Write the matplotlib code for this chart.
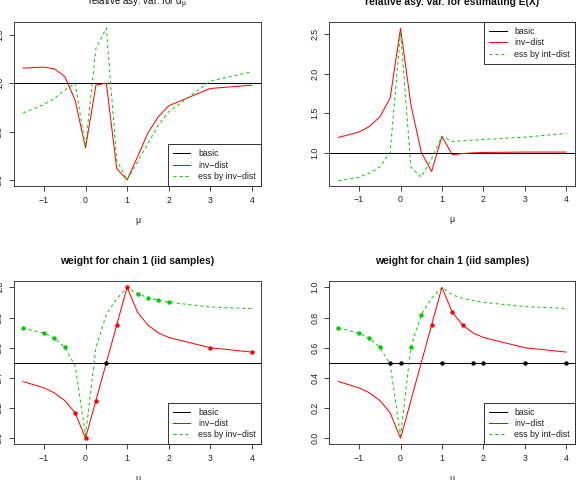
import matplotlib
matplotlib.use("Agg")
import matplotlib.pyplot as plt
from matplotlib.lines import Line2D

plt.rcParams['font.family'] = ['Liberation Sans', 'DejaVu Sans']

# ---------------- data ----------------
mu = [-1.5, -1, -0.75, -0.5, -0.25, 0, 0.25, 0.5, 0.75, 1, 1.25, 1.5, 1.75, 2, 3, 4]

# relative asymptotic variance for d_mu
var_d_inv = [1.155, 1.166, 1.148, 1.069, 0.824, 0.331, 0.979, 1.0, 0.117, 0.0,
             0.238, 0.486, 0.652, 0.766, 0.945, 0.979]
var_d_ess = [0.693, 0.779, 0.841, 0.928, 1.0, 0.341, 1.359, 1.569, 0.203, 0.0,
             0.186, 0.376, 0.566, 0.703, 1.021, 1.117]

# relative asymptotic variance for estimating E(X)
var_e_inv = [1.197, 1.265, 1.336, 1.454, 1.693, 2.567, 1.609, 1.013, 0.769, 1.21,
             0.979, 0.995, 1.003, 1.008, 1.013, 1.013]
var_e_ess = [0.655, 0.697, 0.748, 0.824, 1.013, 2.525, 0.824, 0.697, 0.929, 1.21,
             1.147, 1.155, 1.163, 1.172, 1.2, 1.248]

# weight for chain 1
w_basic = 0.5
w_inv = [0.376, 0.334, 0.301, 0.25, 0.169, 0.0, 0.25, 0.5, 0.75, 1.0,
         0.835, 0.75, 0.698, 0.668, 0.6, 0.571]
w_ess_d = [0.732, 0.695, 0.662, 0.602, 0.48, 0.02, 0.60, 0.82, 0.925, 1.0,
           0.958, 0.932, 0.914, 0.901, 0.870, 0.859]
w_ess_e = [0.732, 0.695, 0.662, 0.602, 0.49, 0.015, 0.602, 0.82, 0.927, 1.0,
           0.95, 0.927, 0.912, 0.90, 0.873, 0.859]

# best method at each mu (point markers)
best_d = ['ess', 'ess', 'ess', 'ess', 'inv', 'inv', 'inv', 'basic', 'inv', 'inv',
          'ess', 'ess', 'ess', 'ess', 'inv', 'inv']
best_e = ['ess', 'ess', 'ess', 'ess', 'basic', 'basic', 'ess', 'ess', 'inv', 'basic',
          'inv', 'inv', 'basic', 'basic', 'basic', 'basic']

titles = [r'relative asy. var. for d$_\mathregular{\mu}$',
          'relative asy. var. for estimating E(X)',
          'weight for chain 1 (iid samples)',
          'weight for chain 1 (iid samples)']
legend_labels_d = ['basic', 'inv\u2212dist', 'ess by inv\u2212dist']
legend_labels_e = ['basic', 'inv\u2212dist', 'ess by int\u2212dist']
xticks = [-1, 0, 1, 2, 3, 4]

RED = '#FF0000'
GREEN = '#00CD00'
FS = 8.7
TFS = 10.2

W, H = 585, 480
fig = plt.figure(figsize=(W / 72, H / 72), dpi=72)


def make_ax(x0, y0, x1, y1):
    return fig.add_axes([x0 / W, 1 - y1 / H, (x1 - x0) / W, (y1 - y0) / H])


axes = [make_ax(14, 22, 261, 186), make_ax(329.3, 22, 575.3, 185.5),
        make_ax(14, 281.3, 261, 444.3), make_ax(329.3, 281.3, 575.3, 444.3)]


def style(ax, yticks, ylim, title, bold):
    ax.set_xlim(-1.72, 4.22)
    ax.set_ylim(*ylim)
    ax.set_xticks(xticks)
    ax.set_xticklabels([f'{t:d}'.replace('-', '\u2212') for t in xticks])
    ax.set_yticks(yticks)
    ax.set_yticklabels([f'{t:.1f}' for t in yticks], rotation=90, va='center')
    ax.tick_params(axis='both', length=5, width=0.9, labelsize=FS, pad=5,
                   color='#333333', labelcolor='#222222')
    for s in ax.spines.values():
        s.set_linewidth(0.9)
        s.set_color('#333333')
    ax.set_xlabel('\u03bc', fontsize=FS, labelpad=11, color='#222222')
    ax.set_title(title, fontsize=TFS if bold else FS + 1.0,
                 fontweight='bold' if bold else 'normal',
                 pad=17, color='#111111')


def add_legend(ax, labels, loc):
    handles = [Line2D([], [], color='black', lw=1),
               Line2D([], [], color=RED, lw=1),
               Line2D([], [], color=GREEN, lw=1, dashes=(3, 3))]
    leg = ax.legend(handles, labels, loc=loc, fontsize=FS, frameon=True,
                    fancybox=False, framealpha=1, edgecolor='#222222',
                    borderaxespad=0, handlelength=2.0, handletextpad=0.9,
                    labelspacing=0.25, borderpad=0.6)
    leg.get_frame().set_linewidth(0.9)
    for t in leg.get_texts():
        t.set_color('#222222')


def draw_lines(ax, base, inv, ess):
    ax.axhline(base, color='black', lw=1)
    ax.plot(mu, inv, color=RED, lw=1)
    ax.plot(mu, ess, color=GREEN, lw=1, dashes=(3, 3))


# top-left
ax = axes[0]
draw_lines(ax, 1.0, var_d_inv, var_d_ess)
style(ax, [0.0, 0.5, 1.0, 1.5], (-0.063, 1.632), titles[0], False)
add_legend(ax, legend_labels_d, 'lower right')

# top-right
ax = axes[1]
draw_lines(ax, 1.0, var_e_inv, var_e_ess)
style(ax, [1.0, 1.5, 2.0, 2.5], (0.593, 2.647), titles[1], True)
add_legend(ax, legend_labels_e, 'upper right')


def draw_points(ax, best, ess):
    cmap = {'basic': 'black', 'inv': RED, 'ess': GREEN}
    for i, b in enumerate(best):
        val = {'basic': w_basic, 'inv': w_inv[i], 'ess': ess[i]}[b]
        ax.plot([mu[i]], [val], 'o', color=cmap[b], markersize=4.4,
                markeredgewidth=0, zorder=5)


wticks = [0.0, 0.2, 0.4, 0.6, 0.8, 1.0]
# bottom-left
ax = axes[2]
draw_lines(ax, w_basic, w_inv, w_ess_d)
draw_points(ax, best_d, w_ess_d)
style(ax, wticks, (-0.04, 1.04), titles[2], True)
add_legend(ax, legend_labels_d, 'lower right')

# bottom-right
ax = axes[3]
draw_lines(ax, w_basic, w_inv, w_ess_e)
draw_points(ax, best_e, w_ess_e)
style(ax, wticks, (-0.04, 1.04), titles[3], True)
add_legend(ax, legend_labels_e, 'lower right')

fig.savefig('out.png', dpi=72)
